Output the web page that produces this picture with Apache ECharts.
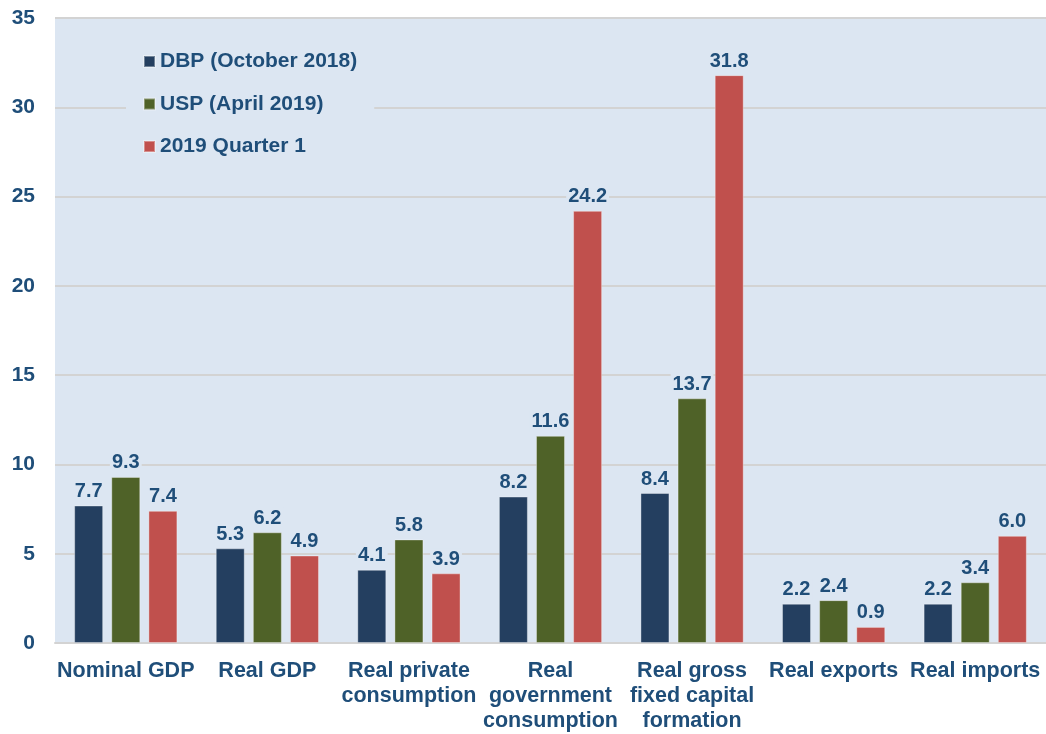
<!DOCTYPE html>
<html>
<head>
<meta charset="utf-8">
<script src="https://cdn.jsdelivr.net/npm/echarts@6/dist/echarts.min.js"></script>
<style>
  html, body { margin: 0; padding: 0; background: #ffffff; }
  #chart { width: 1046px; height: 734px; }
</style>
</head>
<body>
<div id="chart"></div>
<script>
// Growth rates (%) by component and projection vintage
const categories = [
  'Nominal GDP',
  'Real GDP',
  'Real private\nconsumption',
  'Real\ngovernment\nconsumption',
  'Real gross\nfixed capital\nformation',
  'Real exports',
  'Real imports'
];
const seriesNames = ['DBP (October 2018)', 'USP (April 2019)', '2019 Quarter 1'];
const dbpValues = [7.7, 5.3, 4.1, 8.2, 8.4, 2.2, 2.2];
const uspValues = [9.3, 6.2, 5.8, 11.6, 13.7, 2.4, 3.4];
const q1Values = [7.4, 4.9, 3.9, 24.2, 31.8, 0.9, 6.0];
const yTicks = { min: 0, max: 35, interval: 5 };

const textColor = '#1F4E79';
const plotBg = '#DCE6F2';
const colors = ['#243F60', '#4F6228', '#C0504D'];
const font = '"Liberation Sans", Arial, sans-serif';

function barSeries(name, values, color) {
  return {
    name: name,
    type: 'bar',
    data: values,
    barWidth: 29,
    barGap: '28%',
    itemStyle: { color: color, borderColor: 'rgba(255,255,255,0.35)', borderWidth: 1 },
    label: {
      show: true,
      position: 'top',
      distance: 3,
      formatter: p => p.value.toFixed(1),
      color: textColor,
      fontFamily: font,
      fontWeight: 'bold',
      fontSize: 20,
      backgroundColor: plotBg,
      padding: [1, 2, 1, 2]
    }
  };
}

const chart = echarts.init(document.getElementById('chart'));
chart.setOption({
  animation: false,
  textStyle: { fontFamily: font },
  grid: {
    left: 55, right: 0, top: 18, bottom: 89,
    show: true, backgroundColor: plotBg, borderWidth: 0
  },
  legend: {
    orient: 'vertical',
    left: 126,
    top: 41,
    itemWidth: 11,
    itemHeight: 11,
    itemGap: 21.5,
    icon: 'rect',
    backgroundColor: plotBg,
    padding: [10, 17, 10, 17],
    textStyle: { color: textColor, fontFamily: font, fontWeight: 'bold', fontSize: 21 },
    data: seriesNames
  },
  xAxis: {
    type: 'category',
    data: categories,
    axisLine: { show: true, lineStyle: { color: '#D3D3D3', width: 2 } },
    axisTick: { show: false },
    axisLabel: {
      interval: 0,
      margin: 16,
      color: textColor,
      fontFamily: font,
      fontWeight: 'bold',
      fontSize: 21.5,
      lineHeight: 25
    }
  },
  yAxis: {
    type: 'value',
    min: yTicks.min,
    max: yTicks.max,
    interval: yTicks.interval,
    axisLine: { show: false },
    axisTick: { show: false },
    splitLine: { lineStyle: { color: '#D3D3D3', width: 2 } },
    axisLabel: {
      margin: 20,
      color: textColor,
      fontFamily: font,
      fontWeight: 'bold',
      fontSize: 21
    }
  },
  series: [
    barSeries(seriesNames[0], dbpValues, colors[0]),
    barSeries(seriesNames[1], uspValues, colors[1]),
    barSeries(seriesNames[2], q1Values, colors[2])
  ]
});
</script>
</body>
</html>
